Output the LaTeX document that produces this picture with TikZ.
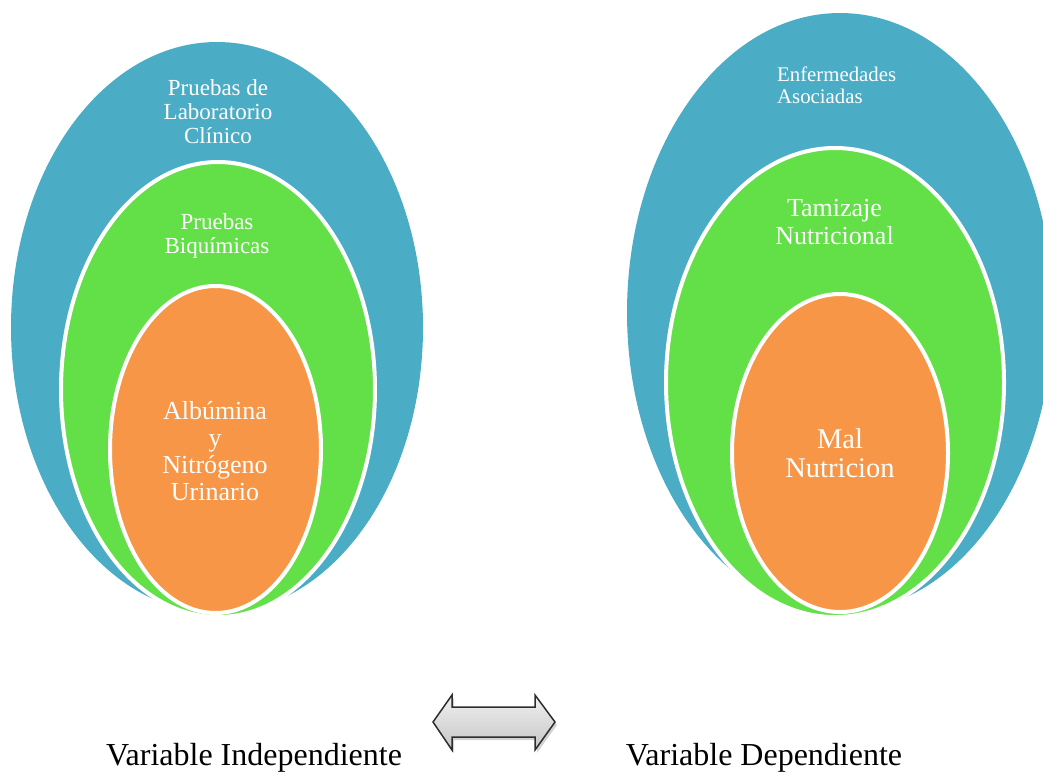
\documentclass[tikz,border=0pt]{standalone}
\usepackage{fontspec}
\setmainfont{Liberation Serif}
\usetikzlibrary{shapes.geometric,shadows}
\definecolor{ringblue}{RGB}{75,172,198}
\definecolor{ringgreen}{RGB}{99,224,72}
\definecolor{ringorange}{RGB}{247,150,70}
\definecolor{arrowedge}{RGB}{45,45,45}
\begin{document}
\begin{tikzpicture}[x=1pt,y=-1pt,
  ring/.style={ellipse, inner sep=0pt, outer sep=0pt},
  outerring/.style={ring, fill=ringblue, draw=none},
  midring/.style={ring, fill=ringgreen, draw=white, line width=4pt},
  innerring/.style={ring, fill=ringorange, draw=white, line width=4pt},
  lbl/.style={text=white, align=center, inner sep=0pt, anchor=base},
  caption/.style={text=black, inner sep=0pt, anchor=base, font=\fontsize{32}{36}\selectfont},
  blockarrow/.style={draw=arrowedge, line width=1.5pt, line join=miter,
    top color=gray!12, bottom color=gray!45,
    drop shadow={shadow xshift=2pt, shadow yshift=-3pt, opacity=0.35}}]
\useasboundingbox (0,0) rectangle (1043,772);
\clip (0,0) rectangle (1043,772);

% independent variable: nested rings
\node[outerring, minimum width=412pt, minimum height=571pt] (lblue) at (217,327.5) {};
\node[midring, minimum width=314pt, minimum height=455pt] (lgreen) at (218,389.5) {};
\node[innerring, minimum width=211pt, minimum height=327pt] (lorange) at (215.5,449.5) {};

% dependent variable: nested rings
\node[outerring, minimum width=426pt, minimum height=599pt] (rblue) at (840,312.5) {};
\node[midring, minimum width=338pt, minimum height=469pt] (rgreen) at (835,382.5) {};
\node[innerring, minimum width=216pt, minimum height=318pt] (rorange) at (840,453) {};

% ring labels (each placed on the baseline of its last line)
\node[lbl, font=\fontsize{23}{24}\selectfont] (tlblue) at (218,143) {Pruebas de\\Laboratorio\\Clínico};
\node[lbl, font=\fontsize{23}{24}\selectfont] (tlgreen) at (217,253) {Pruebas\\Biquímicas};
\node[lbl, font=\fontsize{26}{27}\selectfont] (tlorange) at (215,500) {Albúmina\\y\\Nitrógeno\\Urinario};
\node[lbl, align=left, anchor=base west, font=\fontsize{20.8}{21.6}\selectfont] (trblue) at (777,103.3) {Enfermedades\\Asociadas};
\node[lbl, font=\fontsize{26}{27.7}\selectfont] (trgreen) at (834.5,244.3) {Tamizaje\\Nutricional};
\node[lbl, font=\fontsize{28.5}{29}\selectfont] (trorange) at (840,477) {Mal\\Nutricion};

% relation between the two variables
\draw[blockarrow] (433,722) -- (452,695) -- (452,707) -- (535,707) -- (535,695)
  -- (555,722) -- (535,750) -- (535,737) -- (452,737) -- (452,750) -- cycle;

% captions
\node[caption] (indep) at (254,765) {Variable Independiente};
\node[caption] (dep) at (764,765) {Variable Dependiente};
\end{tikzpicture}
\end{document}
